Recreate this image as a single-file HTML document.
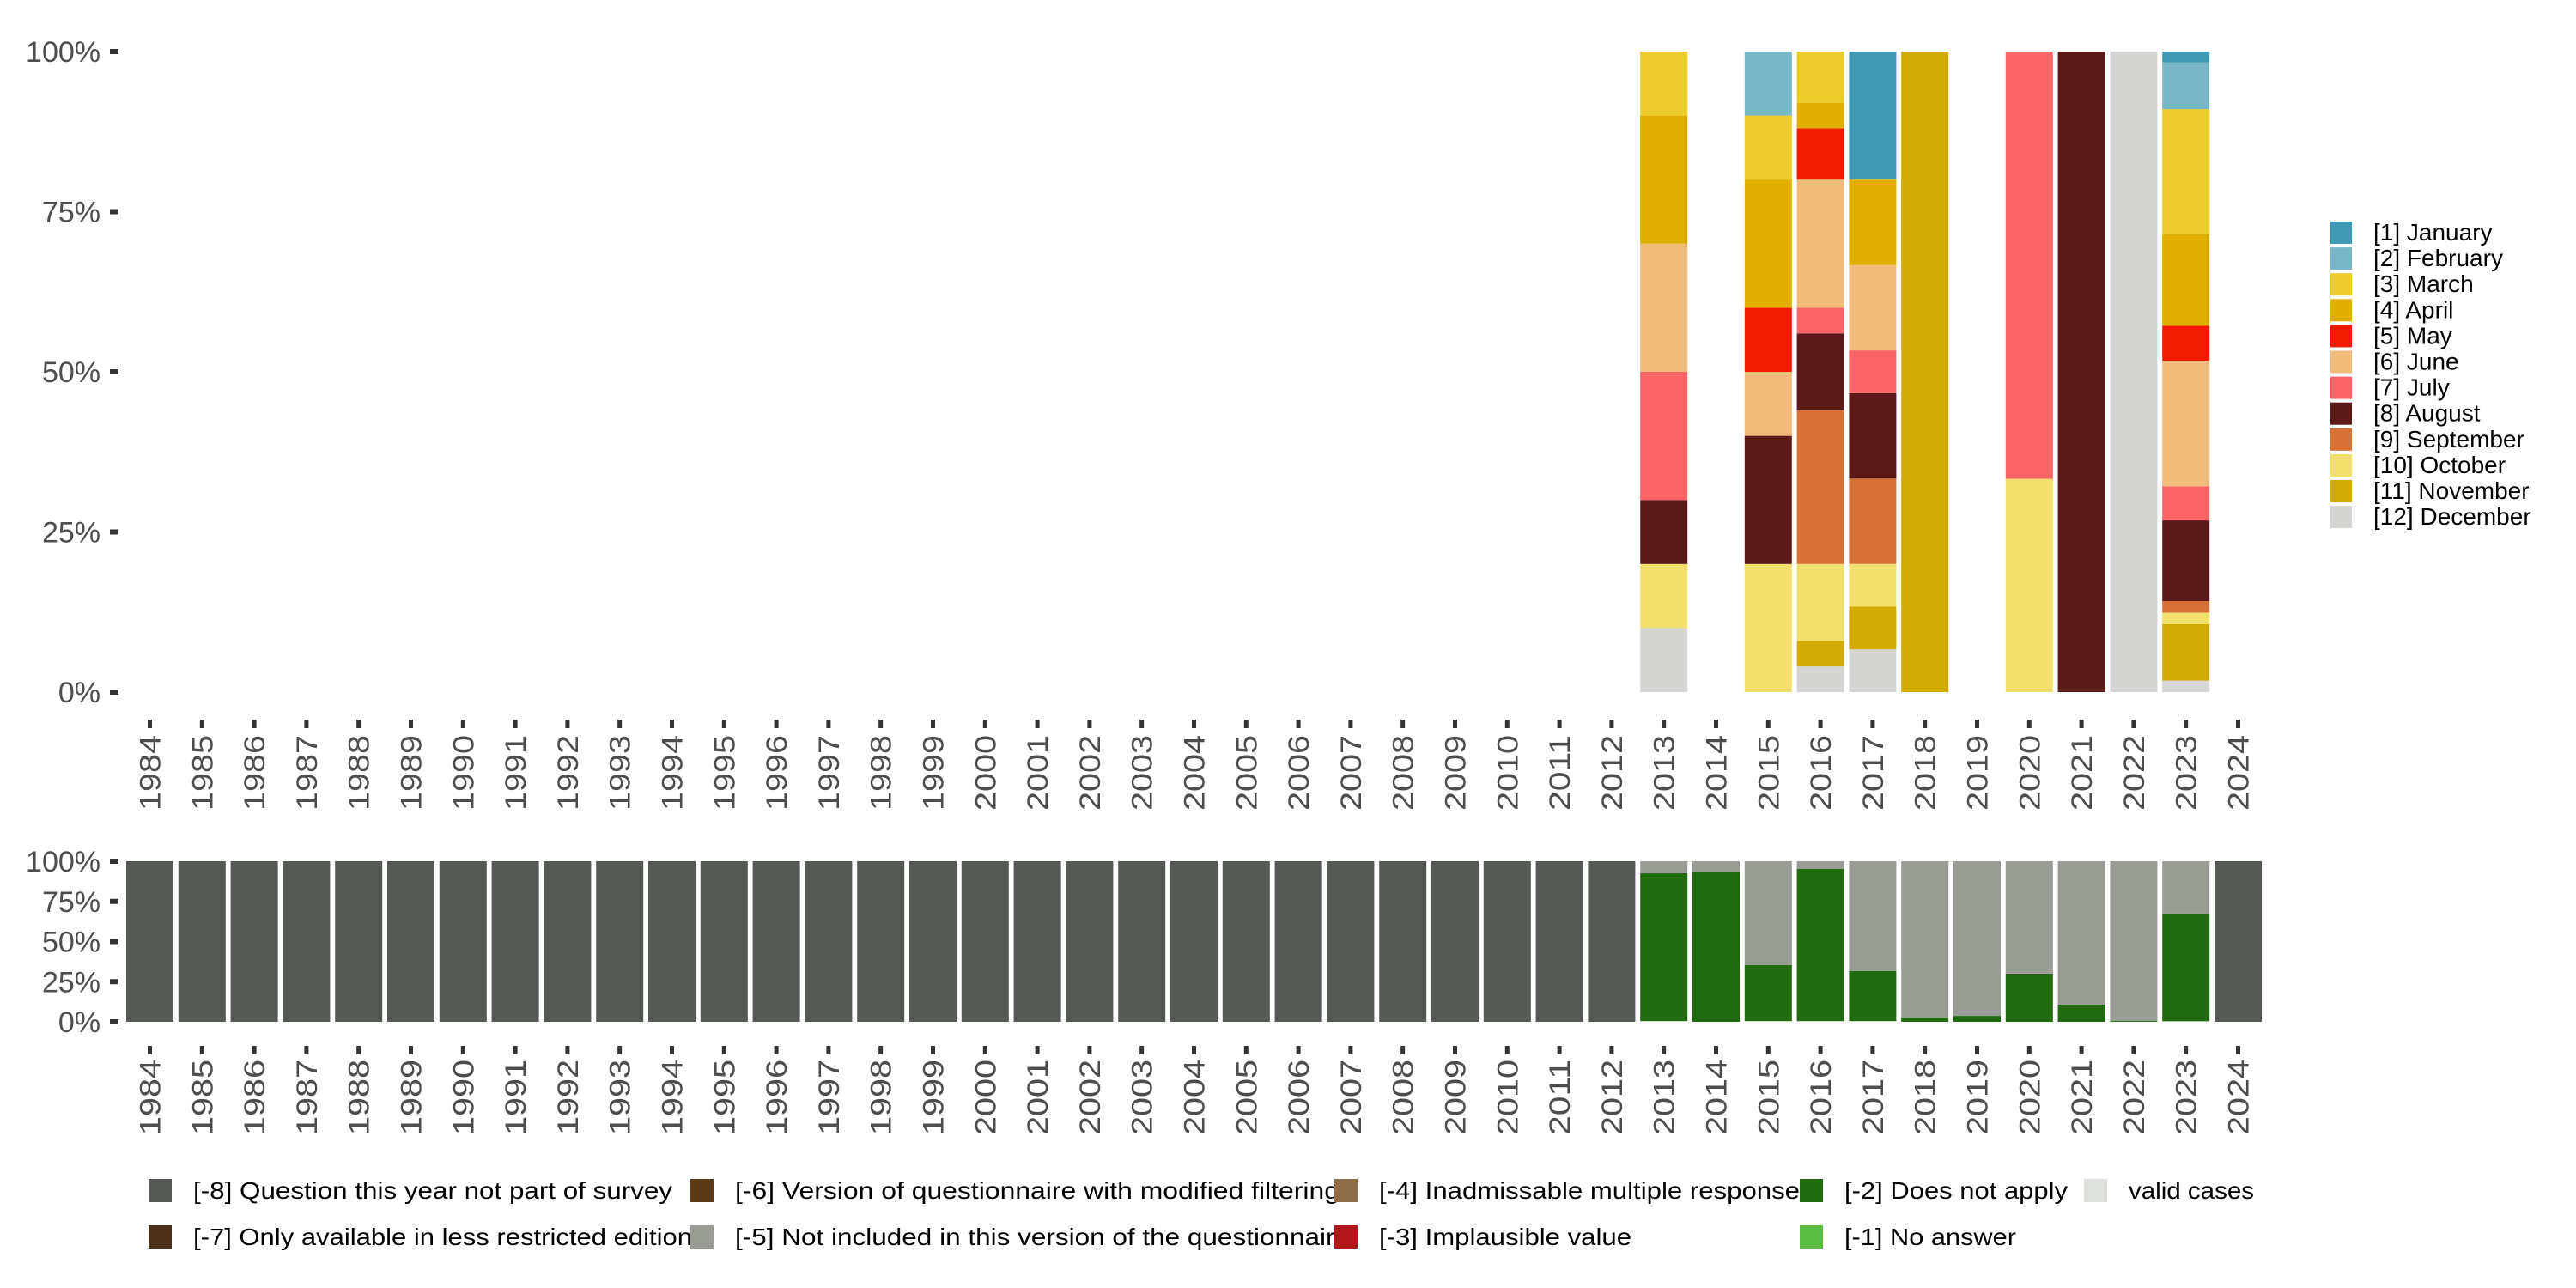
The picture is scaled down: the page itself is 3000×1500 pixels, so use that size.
<!DOCTYPE html>
<html><head><meta charset="utf-8"><style>
html,body{margin:0;padding:0;background:#fff;}
svg{display:block;font-family:"Liberation Sans",sans-serif;}
</style></head><body>
<svg id="chart" width="3000" height="1500" viewBox="0 0 3000 1500" xmlns="http://www.w3.org/2000/svg">
<g id="top"></g>
<g id="bottom"></g>
<g id="legend-top"></g>
<g id="legend-bottom"></g>
</svg>
<script>
const years = [];
for (let y = 1984; y <= 2024; y++) years.push(y);
const monthNames = ["[1] January","[2] February","[3] March","[4] April","[5] May","[6] June","[7] July","[8] August","[9] September","[10] October","[11] November","[12] December"];
const monthColors = ["#3D9AB2","#78B7C5","#EBCC2A","#E1AF00","#F21A00","#F1BB7B","#FD6467","#5B1A18","#D67236","#F3DF6C","#D1AA06","#D5D5D3"];
const topYears = [2013, 2015, 2016, 2017, 2018, 2020, 2021, 2022, 2023];
const topValues = [
  [0,0,10,20,0,20,20,10,0,10,0,10],
  [0,10,10,20,10,10,0,20,0,20,0,0],
  [0,0,8,4,8,20,4,12,24,12,4,4],
  [20,0,0,13.33,0,13.33,6.67,13.33,13.33,6.67,6.67,6.67],
  [0,0,0,0,0,0,0,0,0,0,100,0],
  [0,0,0,0,0,0,66.7,0,0,33.3,0,0],
  [0,0,0,0,0,0,0,100,0,0,0,0],
  [0,0,0,0,0,0,0,0,0,0,0,100],
  [1.7,7.3,19.5,14.3,5.5,19.6,5.3,12.6,1.8,1.8,8.8,1.8]
];
const yTicks = [0,25,50,75,100];
const yTickLabels = ["0%","25%","50%","75%","100%"];
const missNames = ["[-8] Question this year not part of survey","[-7] Only available in less restricted edition","[-6] Version of questionnaire with modified filtering","[-5] Not included in this version of the questionnaire","[-4] Inadmissable multiple response","[-3] Implausible value","[-2] Does not apply","[-1] No answer","valid cases"];
const missColors = ["#545A53","#4A3018","#5C3B18","#989C95","#8F6C49","#B2161D","#216A0F","#5BBD3F","#DEE0DC"];
const botYears = [2013,2014,2015,2016,2017,2018,2019,2020,2021,2022,2023];
const botMinus5 = [7.5,6.8,64.7,4.8,68.4,97.3,96.3,70,89.3,99.5,32.6];
const botMinus2 = [92,93.2,34.8,94.7,31.1,2.7,3.7,30,10.7,0.5,67];
const botValid = [0.5,0,0.5,0.5,0.5,0,0,0,0,0,0.4];

const NS = "http://www.w3.org/2000/svg";
function mk(tag, attrs, parent) {
  const e = document.createElementNS(NS, tag);
  for (const k in attrs) e.setAttribute(k, attrs[k]);
  parent.appendChild(e);
  return e;
}
const pitch = 60.8, x0 = 147, bw = 55;
function xPos(year) { return x0 + (year - 1984) * pitch; }
function yTop(v) { return 806 - v / 100 * 746; }
function yBot(v) { return 1190 - v / 100 * 187; }

function axes(g, yFn, tickTop, labelTop, name) {
  yTicks.forEach((t, i) => {
    const yy = yFn(t);
    const tx = mk("text", {x:117, y:yy+12, "text-anchor":"end", "font-size":34, fill:"#4d4d4d"}, g);
    tx.textContent = yTickLabels[i];
    
    
    const tk = mk("rect", {x:128, y:yy-3, width:10, height:6, fill:"#333"}, g);
    
    
  });
  years.forEach(yr => {
    const cx = xPos(yr) + bw / 2;
    const tk = mk("rect", {x:cx-2.5, y:tickTop, width:5, height:10, fill:"#333"}, g);
    
    
    const tx = mk("text", {x:0, y:0, "text-anchor":"end", "font-size":34, fill:"#4d4d4d",
      textLength:88, lengthAdjust:"spacingAndGlyphs",
      transform:`translate(${cx+12},${labelTop}) rotate(-90)`}, g);
    tx.textContent = yr;
    
    
  });
}

const gt = document.getElementById("top");
topYears.forEach((yr, i) => {
  let cum = 0;
  for (let m = 11; m >= 0; m--) {
    const v = topValues[i][m];
    if (v <= 0) continue;
    const r = mk("rect", {x:xPos(yr), y:yTop(cum+v), width:bw, height:yTop(cum)-yTop(cum+v), fill:monthColors[m]}, gt);
    
    
    cum += v;
  }
});
axes(gt, yTop, 838, 856, "top");

const gb = document.getElementById("bottom");
years.forEach(yr => {
  const idx = botYears.indexOf(yr);
  let segs;
  if (idx < 0) segs = [[0, 100]];
  else segs = [[8, botValid[idx]], [6, botMinus2[idx]], [3, botMinus5[idx]]];
  let cum = 0;
  segs.forEach(([c, v]) => {
    if (v <= 0) return;
    const top = Math.min(cum + v, 100);
    const r = mk("rect", {x:xPos(yr), y:yBot(top), width:bw, height:yBot(cum)-yBot(top), fill:missColors[c]}, gb);
    
    
    cum = top;
  });
});
axes(gb, yBot, 1218, 1234, "bottom");

const lt = document.getElementById("legend-top");
monthNames.forEach((n, i) => {
  const cy = 271 + i * 30.1;
  const r = mk("rect", {x:2714, y:cy-13, width:25, height:26, fill:monthColors[i]}, lt);
  
  
  const t = mk("text", {x:2764, y:cy+9, "font-size":28, fill:"#000"}, lt);
  t.textContent = n;
  
  
});

const lb = document.getElementById("legend-bottom");
const colSq = [173, 804, 1554, 2096, 2427];
const widths = [558, 581, 704, 716, 490, 294, 260, 200, 146];
missNames.forEach((n, i) => {
  const col = Math.floor(i / 2), row = i % 2;
  const cy = row ? 1440 : 1386;
  const r = mk("rect", {x:colSq[col], y:cy-13, width:27, height:27, fill:missColors[i]}, lb);
  
  
  const t = mk("text", {x:colSq[col]+52, y:cy+10, "font-size":28, fill:"#000", textLength:widths[i], lengthAdjust:"spacingAndGlyphs"}, lb);
  t.textContent = n;
  
  
});
</script>
</body></html>
